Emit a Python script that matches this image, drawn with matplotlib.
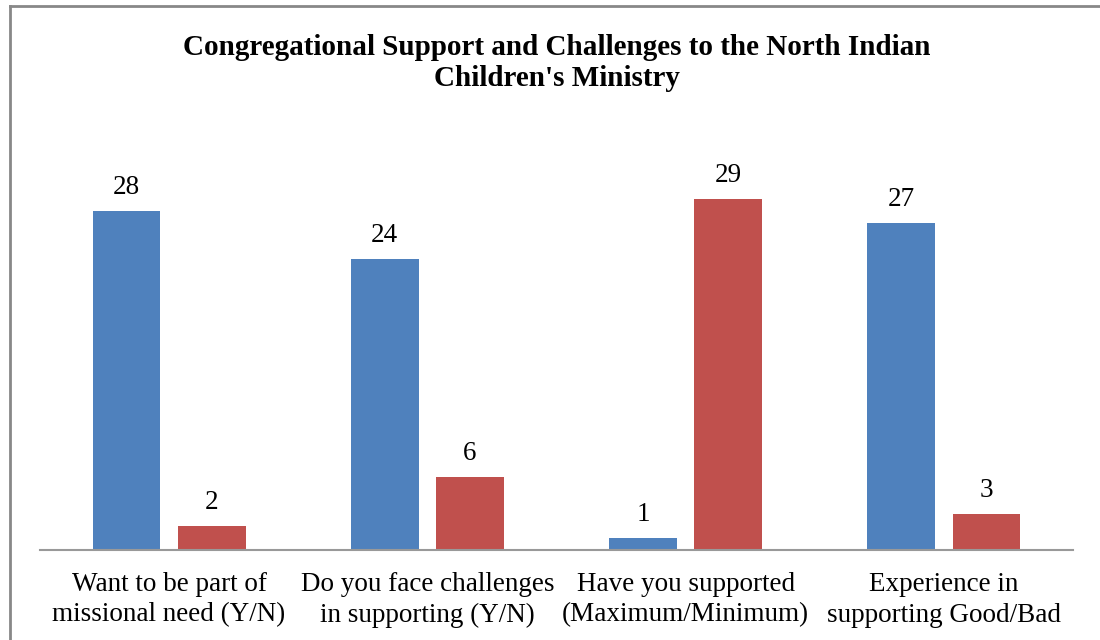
import numpy as np
import matplotlib.pyplot as plt
from matplotlib.lines import Line2D

categories = ['Want to be part of\nmissional need (Y/N)',
              'Do you face challenges\nin supporting (Y/N)',
              'Have you supported\n(Maximum/Minimum)',
              'Experience in\nsupporting Good/Bad']
first_vals = [28, 24, 1, 27]
second_vals = [2, 6, 29, 3]

W, H = 1100, 640
fig = plt.figure(figsize=(W / 100, H / 100), dpi=100)
# axes placed in pixel terms: x 40..1073, baseline at 550, top at 126
ax = fig.add_axes([40 / W, 1 - 550 / H, 1033 / W, 424 / H])

x = np.arange(len(categories))
bw = 0.263
off = 0.165
b1 = ax.bar(x - off, first_vals, bw, color='#4F81BD')
b2 = ax.bar(x + off, second_vals, bw, color='#C0504D')

for bars in (b1, b2):
    for r in bars:
        ax.annotate(str(int(r.get_height())),
                    (r.get_x() + r.get_width() / 2, r.get_height()),
                    xytext=(0, 17), textcoords='offset points',
                    ha='center', va='center', fontsize=19.5,
                    family='Liberation Serif')

ax.set_xlim(-0.5, 3.5)
ax.set_ylim(0, 35)
ax.set_yticks([])
ax.set_xticks(x)
ax.set_xticklabels(categories, fontsize=19.5, family='Liberation Serif',
                   linespacing=1.28)
ax.tick_params(axis='x', length=0, pad=16)
for s in ['top', 'right', 'left']:
    ax.spines[s].set_visible(False)
ax.spines['bottom'].set_color('#999999')
ax.spines['bottom'].set_linewidth(1.5)

fig.text(0.506, 1 - 63 / H,
         "Congregational Support and Challenges to the North Indian\nChildren's Ministry",
         ha='center', va='center', fontsize=21, fontweight='bold',
         family='Liberation Serif', linespacing=1.22)

# chart border (only top and left visible)
fig.add_artist(Line2D([9.5 / W, 9.5 / W], [0, 1 - 5.5 / H], color='#888888', lw=2))
fig.add_artist(Line2D([9.5 / W, 1], [1 - 5.5 / H, 1 - 5.5 / H], color='#888888', lw=2))

fig.savefig('out.png', dpi=100)
